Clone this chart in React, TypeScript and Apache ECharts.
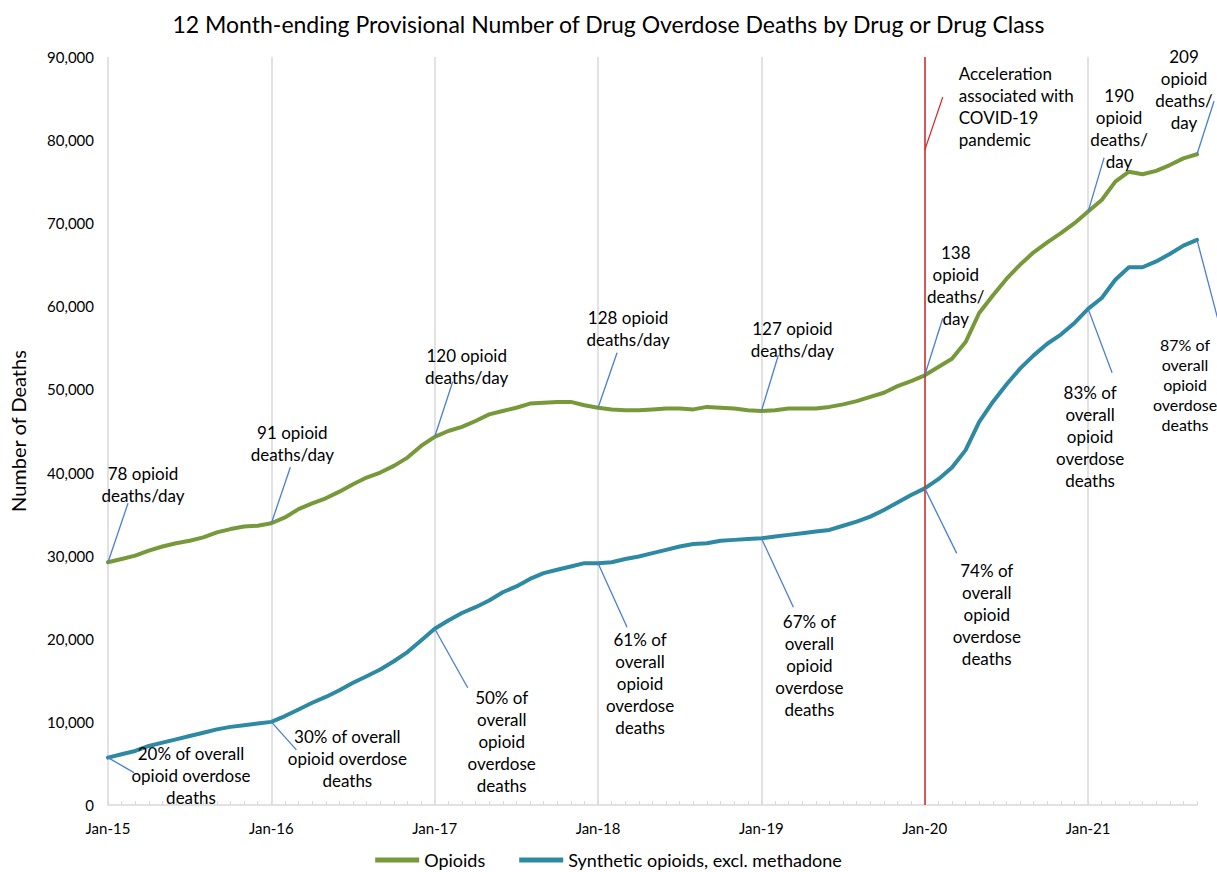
import React, { useEffect, useRef } from "react";
import * as echarts from "echarts";

const TITLE = "12 Month-ending Provisional Number of Drug Overdose Deaths by Drug or Drug Class";
const Y_AXIS_NAME = "Number of Deaths";
const MONTH_NAMES = ["Jan", "Feb", "Mar", "Apr", "May", "Jun", "Jul", "Aug", "Sep", "Oct", "Nov", "Dec"];
const YEARS = ["15", "16", "17", "18", "19", "20", "21"];
const LAST_MONTH_COUNT = 9; // 2021 runs to Sep
const CATEGORIES: string[] = [];
YEARS.forEach((yy, yi) => {
  const n = yi === YEARS.length - 1 ? LAST_MONTH_COUNT : 12;
  for (let m = 0; m < n; m++) CATEGORIES.push(`${MONTH_NAMES[m]}-${yy}`);
});

const SERIES_NAMES = ["Opioids", "Synthetic opioids, excl. methadone"];

const OPIOIDS = [
  29200, 29600, 30000, 30600, 31100, 31500, 31800, 32200, 32800, 33200, 33500, 33600,
  33900, 34600, 35600, 36300, 36900, 37700, 38600, 39400, 40000, 40800, 41800, 43200,
  44300, 45000, 45500, 46200, 47000, 47400, 47800, 48300, 48400, 48500, 48500, 48100,
  47800, 47600, 47500, 47500, 47600, 47700, 47700, 47600, 47900, 47800, 47700, 47500,
  47400, 47500, 47700, 47700, 47700, 47900, 48200, 48600, 49100, 49600, 50400, 51000,
  51700, 52700, 53700, 55700, 59200, 61300, 63300, 65000, 66500, 67700, 68800, 70000,
  71400, 72800, 75000, 76200, 75900, 76300, 77000, 77800, 78300,
];

const SYNTHETIC = [
  5700, 6100, 6500, 7100, 7500, 7900, 8300, 8700, 9100, 9400, 9600, 9800,
  10000, 10700, 11500, 12300, 13000, 13800, 14700, 15500, 16300, 17300, 18400, 19800,
  21200, 22200, 23100, 23800, 24600, 25600, 26300, 27200, 27900, 28300, 28700, 29100,
  29100, 29200, 29600, 29900, 30300, 30700, 31100, 31400, 31500, 31800, 31900, 32000,
  32100, 32300, 32500, 32700, 32900, 33100, 33600, 34100, 34700, 35500, 36400, 37300,
  38100, 39200, 40600, 42700, 46100, 48500, 50600, 52500, 54100, 55500, 56600, 58000,
  59700, 61000, 63200, 64700, 64700, 65400, 66300, 67300, 68000,
];

const Y_MIN = 0;
const Y_MAX = 90000;
const Y_INTERVAL = 10000;

// Annotation texts, anchored on a series point
const ANNOTATION_SERIES = [0, 0, 0, 0, 0, 0, 0, 0, 1, 1, 1, 1, 1, 1, 1, 1];
const ANNOTATION_AT = [
  "Jan-15", "Jan-16", "Jan-17", "Jan-18", "Jan-19", "Jan-20", "Jan-21", "Sep-21",
  "Jan-15", "Jan-16", "Jan-17", "Jan-18", "Jan-19", "Jan-20", "Jan-21", "Sep-21",
];
const ANNOTATION_TEXT = [
  "78 opioid\ndeaths/day",
  "91 opioid\ndeaths/day",
  "120 opioid\ndeaths/day",
  "128 opioid\ndeaths/day",
  "127 opioid\ndeaths/day",
  "138\nopioid\ndeaths/\nday",
  "190\nopioid\ndeaths/\nday",
  "209\nopioid\ndeaths/\nday",
  "20% of overall\nopioid overdose\ndeaths",
  "30% of overall\nopioid overdose\ndeaths",
  "50% of\noverall\nopioid\noverdose\ndeaths",
  "61% of\noverall\nopioid\noverdose\ndeaths",
  "67% of\noverall\nopioid\noverdose\ndeaths",
  "74% of\noverall\nopioid\noverdose\ndeaths",
  "83% of\noverall\nopioid\noverdose\ndeaths",
  "87% of\noverall\nopioid\noverdose\ndeaths",
];
const COVID_AT = "Jan-20";
const COVID_LEVEL = 78800;
const COVID_TEXT = "Acceleration\nassociated with\nCOVID-19\npandemic";

// Layout (pixel offsets relative to the anchor point): text centre, leader end, font size
const ANNOTATION_LAYOUT = [
  { tx: 35, ty: -78, lx: 20, ly: -59, fs: 17, lh: 22 },
  { tx: 21, ty: -80, lx: 19, ly: -56, fs: 17, lh: 22 },
  { tx: 32, ty: -70, lx: 18, ly: -55, fs: 17, lh: 22 },
  { tx: 30, ty: -79, lx: 19, ly: -55, fs: 17, lh: 22 },
  { tx: 31, ty: -72, lx: 17, ly: -56, fs: 17, lh: 22 },
  { tx: 31, ty: -90, lx: 18, ly: -57, fs: 17, lh: 22 },
  { tx: 31, ty: -83, lx: 16, ly: -54, fs: 17, lh: 22 },
  { tx: -13, ty: -65, lx: 17, ly: -53, fs: 17, lh: 22 },
  { tx: 83, ty: 18, lx: 26, ly: 15, fs: 17, lh: 22 },
  { tx: 76, ty: 37, lx: 25, ly: 28, fs: 17, lh: 22 },
  { tx: 67, ty: 113, lx: 33, ly: 59, fs: 17, lh: 22 },
  { tx: 42, ty: 120, lx: 29, ly: 64, fs: 17, lh: 22 },
  { tx: 48, ty: 127, lx: 32, ly: 69, fs: 17, lh: 22 },
  { tx: 62, ty: 126, lx: 32, ly: 65, fs: 17, lh: 22 },
  { tx: 2, ty: 128, lx: 24, ly: 64, fs: 17, lh: 22 },
  { tx: -12, ty: 145, lx: 21, ly: 80, fs: 16, lh: 20 },
];

const GREEN = "#77993A";
const TEAL = "#2E89A3";
const LEADER = "#4A7FD0";
const RED = "#D22B2B";
const GRID_GRAY = "#D9D9D9";
const FONT = "Lato, 'Open Sans', sans-serif";

export default function App() {
  const ref = useRef<HTMLDivElement>(null);

  useEffect(() => {
    if (!ref.current) return;
    const chart = echarts.init(ref.current, undefined, { renderer: "svg" });
    const isJan = (idx: number) => idx % 12 === 0;

    chart.setOption({
      animation: false,
      backgroundColor: "#ffffff",
      textStyle: { fontFamily: FONT },
      title: {
        text: TITLE,
        left: "center",
        top: 7,
        textStyle: { fontSize: 23, fontWeight: "normal", color: "#000", fontFamily: FONT },
      },
      legend: {
        data: SERIES_NAMES,
        left: "center",
        top: 846,
        icon: "rect",
        itemWidth: 44,
        itemHeight: 5,
        itemGap: 34,
        textStyle: { fontSize: 18, color: "#000", fontFamily: FONT },
      },
      grid: { left: 107, right: 20, top: 57, bottom: 67, containLabel: false },
      xAxis: {
        type: "category",
        data: CATEGORIES,
        boundaryGap: false,
        axisLine: { show: true, lineStyle: { color: GRID_GRAY, width: 1.5 } },
        axisTick: { show: true, interval: 0, inside: true, length: 4, lineStyle: { color: GRID_GRAY } },
        axisLabel: {
          interval: (idx: number) => isJan(idx),
          fontSize: 15,
          color: "#000",
          margin: 15,
          fontFamily: FONT,
        },
        splitLine: {
          show: true,
          interval: (idx: number) => isJan(idx),
          lineStyle: { color: GRID_GRAY, width: 1.5 },
        },
      },
      yAxis: {
        type: "value",
        min: Y_MIN,
        max: Y_MAX,
        interval: Y_INTERVAL,
        name: Y_AXIS_NAME,
        nameLocation: "middle",
        nameGap: 80,
        nameTextStyle: { fontSize: 20, color: "#000", fontFamily: FONT },
        axisLine: { show: false },
        axisTick: { show: false },
        splitLine: { show: false },
        axisLabel: {
          fontSize: 15,
          color: "#000",
          margin: 14,
          fontFamily: FONT,
          formatter: (v: number) => v.toLocaleString("en-US"),
        },
      },
      series: [
        {
          name: SERIES_NAMES[0],
          type: "line",
          data: OPIOIDS,
          showSymbol: false,
          symbol: "none",
          lineStyle: { color: GREEN, width: 4, join: "round", cap: "round" },
          itemStyle: { color: GREEN },
          z: 3,
          markLine: {
            silent: true,
            symbol: "none",
            label: { show: false },
            lineStyle: { color: RED, width: 1.5, type: "solid" },
            data: [{ xAxis: COVID_AT }],
          },
        },
        {
          name: SERIES_NAMES[1],
          type: "line",
          data: SYNTHETIC,
          showSymbol: false,
          symbol: "none",
          lineStyle: { color: TEAL, width: 4, join: "round", cap: "round" },
          itemStyle: { color: TEAL },
          z: 3,
        },
      ],
    });

    const seriesData = [OPIOIDS, SYNTHETIC];
    const graphics: any[] = [];
    ANNOTATION_TEXT.forEach((text, i) => {
      const s = ANNOTATION_SERIES[i];
      const idx = CATEGORIES.indexOf(ANNOTATION_AT[i]);
      const p = chart.convertToPixel({ seriesIndex: s }, [idx, seriesData[s][idx]]) as number[];
      const L = ANNOTATION_LAYOUT[i];
      graphics.push({
        type: "line",
        z: 10,
        shape: { x1: p[0], y1: p[1], x2: p[0] + L.lx, y2: p[1] + L.ly },
        style: { stroke: LEADER, lineWidth: 1.3 },
      });
      graphics.push({
        type: "text",
        z: 11,
        x: p[0] + L.tx,
        y: p[1] + L.ty,
        style: {
          text,
          fill: "#000",
          fontSize: L.fs,
          fontFamily: FONT,
          lineHeight: L.lh,
          align: "center",
          verticalAlign: "middle",
        },
      });
    });
    const cIdx = CATEGORIES.indexOf(COVID_AT);
    const cp = chart.convertToPixel({ seriesIndex: 0 }, [cIdx, COVID_LEVEL]) as number[];
    graphics.push({
      type: "line",
      z: 10,
      shape: { x1: cp[0], y1: cp[1], x2: cp[0] + 18, y2: cp[1] - 53 },
      style: { stroke: RED, lineWidth: 1.3 },
    });
    graphics.push({
      type: "text",
      z: 11,
      x: cp[0] + 34,
      y: cp[1] - 44,
      style: {
        text: COVID_TEXT,
        fill: "#000",
        fontSize: 17,
        fontFamily: FONT,
        lineHeight: 22,
        align: "left",
        verticalAlign: "middle",
      },
    });
    chart.setOption({ graphic: graphics });

    return () => chart.dispose();
  }, []);

  return (
    <div
      ref={ref}
      style={{ position: "fixed", left: 0, top: 0, width: 1217, height: 872, background: "#fff" }}
    />
  );
}
